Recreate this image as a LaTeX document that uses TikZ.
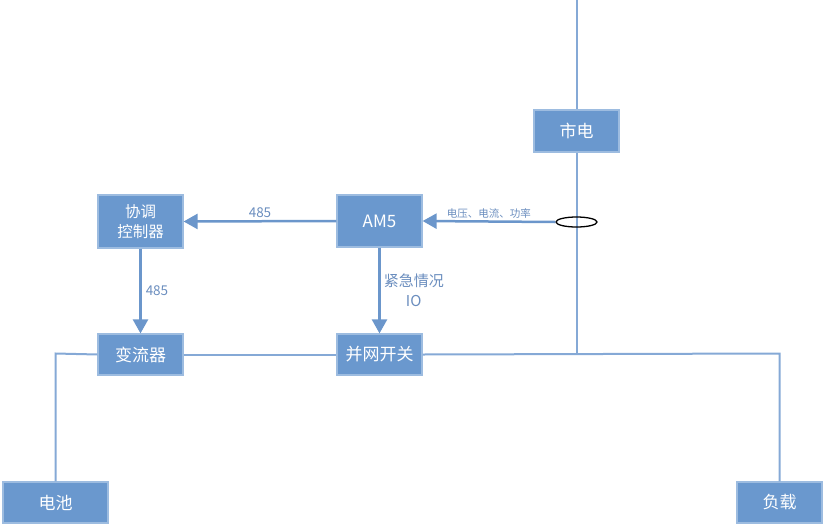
\documentclass[tikz,border=0pt]{standalone}
\usepackage{fontspec}
\setmainfont{Noto Sans CJK SC}
\usetikzlibrary{arrows.meta,shapes.geometric}
\definecolor{boxfill}{HTML}{6A98CE}
\definecolor{boxline}{HTML}{9DBCE0}
\definecolor{wire}{HTML}{85A9D6}
\definecolor{arr}{HTML}{6B96CB}
\definecolor{lbl}{HTML}{6A8DBE}
\begin{document}
\begin{tikzpicture}[x=1pt,y=-1pt,
  blk/.style={draw=boxline,line width=1.2pt,fill=boxfill,text=white,inner sep=0pt,align=center,font=\fontsize{17}{20}\selectfont},
  wireline/.style={draw=wire,line width=2pt},
  sig/.style={draw=arr,line width=2.5pt,-{Triangle[length=14pt,width=15pt]}},
  lab/.style={text=lbl,font=\fontsize{13.5}{15}\selectfont,inner sep=1pt}]
\useasboundingbox (0,0) rectangle (828,528);
\node[blk,minimum width=85pt,minimum height=42pt] (grid) at (576.5,131) {市电};
\node[blk,minimum width=85pt,minimum height=52pt] (am5) at (379.5,221) {AM5};
\node[blk,minimum width=85pt,minimum height=53pt,font=\fontsize{15.5}{20}\selectfont] (ctrl) at (140.5,221.5) {协调\\控制器};
\node[blk,minimum width=85pt,minimum height=41pt] (pcs) at (140.5,354.5) {变流器};
\node[blk,minimum width=85pt,minimum height=41pt] (sw) at (379.5,354.5) {并网开关};
\node[blk,minimum width=105pt,minimum height=41pt] (bat) at (55.5,502.5) {电池};
\node[blk,minimum width=85pt,minimum height=41pt] (load) at (779.5,502.5) {负载};
\coordinate (top) at (576.5,0);
\coordinate (j) at (576.5,353.5);
\coordinate (bl) at (55.5,353.5);
\coordinate (lr) at (779.5,353.5);
\draw[wireline] (top) -- (grid.north);
\draw[wireline] (grid.south) -- (j);
\draw[wireline] (pcs.west) -- (bl) -- (bat.north);
\draw[wireline] (pcs.east) -- (sw.west);
\draw[wireline] (sw.east) -- (lr) -- (load.north);
\node[draw=black,line width=1.3pt,ellipse,minimum width=41pt,minimum height=10pt,inner sep=0pt] (ct) at (576.5,222) {};
\draw[sig] (ct.west) -- node[lab,above,font=\fontsize{10.5}{12}\selectfont,yshift=1pt] {电压、电流、功率} (am5.east);
\draw[sig] (am5.west) -- node[lab,above,yshift=1pt] {485} (ctrl.east);
\draw[sig] (ctrl.south) -- node[lab,right,xshift=3pt] {485} (pcs.north);
\draw[sig] (am5.south) -- node[lab,right,align=center,xshift=2pt,font=\fontsize{15}{20}\selectfont] {紧急情况\\IO} (sw.north);
\end{tikzpicture}
\end{document}
